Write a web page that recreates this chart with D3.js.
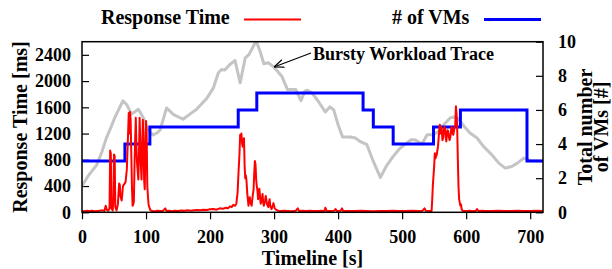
<!DOCTYPE html>
<html lang="en">
<meta charset="utf-8">
<style>
body {
  margin: 0;
  background: #fff;
  font-family: 'Liberation Serif', 'Times New Roman', serif;
}
.axis .domain {
  display: none;
}
.axis text {
  font-family: 'Liberation Serif', serif;
  font-weight: bold;
  font-size: 18px;
  fill: #000;
}
.axis line {
  stroke: #000;
  stroke-width: 1.2px;
}
.lbl {
  font-family: 'Liberation Serif', serif;
  font-weight: bold;
  font-size: 20px;
}
</style>
<body>
<div id="chart"></div>
<script src="https://cdn.jsdelivr.net/npm/d3@7"></script>
<script>

// response time [ms] as [time s, ms]
var respTime = [
  [0,20],[4,15],[8,25],[12,18],[16,22],[20,15],[24,20],[28,25],[32,30],[35,20],[37,100],[39,35],[41,25],[43,60],
  [44,940],[45,900],[46,60],[48,30],[49,200],[50,880],[51,860],[52,80],[54,30],[56,120],[58,440],[59,420],[60,250],
  [62,180],[64,400],[66,430],[68,460],[70,650],[72,1200],[73,1514],[74,1200],[75,1530],[76,1400],[77,880],[78,400],
  [79,100],[80,120],[81,160],[82,700],[83,1100],[84,1440],[85,1000],[86,750],[88,500],[89,900],[90,1440],[91,1100],
  [92,700],[93,500],[94,900],[95,1410],[96,1200],[97,500],[98,350],[99,900],[100,1390],[101,1200],[102,400],[103,240],
  [104,120],[105,80],[107,30],[110,20],[114,15],[118,25],[122,20],[126,18],[130,60],[132,20],[136,25],[140,15],
  [145,22],[150,20],[155,28],[160,22],[165,30],[170,25],[175,30],[180,35],[185,30],[190,40],[195,35],[200,45],
  [205,50],[210,40],[215,60],[220,55],[225,70],[228,60],[231,90],[234,80],[236,112],[239,100],[241,127],[243,300],
  [244,520],[246,900],[247,1183],[248,1100],[249,1200],[250,1050],[251,1000],[252,1100],[253,1130],[254,700],
  [255,520],[256,560],[257,470],[258,300],[260,100],[261,200],[262,230],[263,150],[265,100],[266,200],[267,280],
  [268,350],[269,600],[270,780],[271,730],[272,500],[273,400],[274,330],[275,200],[276,300],[277,360],[278,250],
  [279,130],[281,200],[282,280],[283,150],[284,100],[286,180],[287,250],[289,120],[291,80],[292,150],[293,200],
  [294,100],[296,50],[298,100],[299,140],[301,60],[303,40],[306,25],[310,20],[316,25],[322,20],[328,15],[334,25],
  [337,60],[339,20],[345,25],[350,20],[356,22],[362,18],[368,20],[374,25],[379,20],[380,70],[382,20],[388,20],
  [394,25],[396,50],[398,20],[404,25],[406,60],[408,20],[415,20],[425,18],[435,22],[445,20],[455,15],[465,20],
  [475,18],[485,22],[495,20],[505,18],[515,22],[525,20],[532,25],[535,60],[537,25],[542,20],[546,20],[547,200],
  [548,417],[550,700],[551,900],[552,820],[554,877],[556,1000],[557,1132],[558,1250],[559,1335],[560,1200],
  [561,1300],[562,1234],[563,1100],[564,1132],[565,1250],[566,1300],[567,1285],[568,1150],[569,1081],[570,1200],
  [571,1250],[572,1234],[573,1150],[574,1100],[575,1132],[576,1200],[577,1300],[578,1285],[579,1200],[580,1183],
  [581,1250],[582,1300],[583,1335],[584,1616],[585,1500],[586,1285],[587,800],[588,400],[589,200],[590,150],
  [591,100],[592,120],[593,40],[595,20],[600,20],[605,25],[610,18],[615,20],[617,50],[619,20],[625,22],[630,18],
  [640,20],[650,25],[660,18],[670,20],[680,22],[690,18],[700,20],[710,22],[720,20]
];

// number of VMs, each entry starts a step
var vmTimes = [0, 67, 106, 244, 273, 439, 455, 486, 549, 591, 695, 720];
var vmCount = [3, 4, 5, 6, 7, 6, 5, 4, 5, 6, 3, 3];

// bursty workload trace (gray), in left axis units
var workload = [
  [0,400],[10,560],[23,723],[31,920],[38,1130],[45,1290],[51,1438],[58,1580],[64,1700],[70,1640],[77,1500],
  [80,1514],[88,1570],[96,1438],[101,1305],[106,1220],[111,1178],[117,1208],[122,1254],[127,1420],[132,1590],
  [143,1490],[158,1418],[169,1500],[179,1570],[195,1739],[205,1892],[213,2126],[218,2177],[223,2167],[231,2253],
  [239,2314],[247,1973],[255,2355],[261,2406],[267,2519],[272,2610],[278,2458],[284,2264],[291,2279],[298,2228],
  [305,2152],[312,2075],[321,1871],[334,1871],[342,1702],[348,1846],[352,1861],[359,1820],[369,1693],[380,1530],
  [387,1606],[393,1565],[400,1335],[407,1147],[419,1147],[427,1132],[434,1081],[445,1030],[455,775],[466,531],
  [475,699],[486,852],[497,979],[507,1055],[514,1106],[520,1106],[531,1040],[539,1183],[549,1183],[557,1234],
  [565,1335],[575,1438],[583,1463],[591,1387],[598,1295],[606,1208],[617,1132],[627,1005],[640,876],[651,749],
  [661,673],[671,699],[680,749],[690,826],[700,790],[720,780]
];

var xTicks = [0, 100, 200, 300, 400, 500, 600, 700];
var rtTicks = [0, 400, 800, 1200, 1600, 2000, 2400];
var vmTicks = [0, 2, 4, 6, 8, 10];

var width = 612,
    height = 269;
var margin = {top: 41.7, right: 69, bottom: 56.7, left: 82};
var w = width - margin.left - margin.right,
    h = height - margin.top - margin.bottom;

var svg = d3.select("#chart").append("svg")
    .attr("width", width)
    .attr("height", height);

var x = d3.scaleLinear().domain([0, 720]).range([0, w]);
var yRt = d3.scaleLinear().domain([0, 2600]).range([h, 0]);
var yVm = d3.scaleLinear().domain([0, 10]).range([h, 0]);

var g = svg.append("g")
    .attr("transform", "translate(" + margin.left + "," + margin.top + ")");

// axes
g.append("g")
    .attr("class", "axis")
    .attr("transform", "translate(0," + h + ")")
    .call(d3.axisBottom(x).tickValues(xTicks).tickFormat(d3.format("d")).tickSize(7).tickPadding(11));

g.append("g")
    .attr("class", "axis")
    .call(d3.axisLeft(yRt).tickValues(rtTicks).tickFormat(d3.format("d")).tickSize(-7).tickPadding(11));

g.append("g")
    .attr("class", "axis")
    .attr("transform", "translate(" + w + ",0)")
    .call(d3.axisRight(yVm).tickValues(vmTicks).tickFormat(d3.format("d")).tickSize(-7).tickPadding(15));

g.append("clipPath").attr("id", "clip")
  .append("rect").attr("width", w).attr("height", h);

var plot = g.append("g").attr("clip-path", "url(#clip)");

// gray workload trace
plot.append("path")
    .datum(workload)
    .attr("fill", "none")
    .attr("stroke", "#c4c4c4")
    .attr("stroke-width", 3)
    .attr("stroke-linejoin", "round")
    .attr("d", d3.line().x(function(d) { return x(d[0]); }).y(function(d) { return yRt(d[1]); }));

// VMs step line
plot.append("path")
    .datum(vmTimes.map(function(t, i) { return [t, vmCount[i]]; }))
    .attr("fill", "none")
    .attr("stroke", "#0000ff")
    .attr("stroke-width", 3)
    .attr("d", d3.line().curve(d3.curveStepAfter)
      .x(function(d) { return x(d[0]); }).y(function(d) { return yVm(d[1]); }));

// response time
plot.append("path")
    .datum(respTime)
    .attr("fill", "none")
    .attr("stroke", "#ff0000")
    .attr("stroke-width", 2)
    .attr("stroke-linejoin", "round")
    .attr("d", d3.line().x(function(d) { return x(d[0]); }).y(function(d) { return yRt(d[1]); }));

// frame
g.append("rect")
    .attr("width", w)
    .attr("height", h)
    .attr("fill", "none")
    .attr("stroke", "#000")
    .attr("stroke-width", 1.5);

// annotation
svg.append("defs").append("marker")
    .attr("id", "arr")
    .attr("viewBox", "0 0 10 10")
    .attr("refX", 10).attr("refY", 5)
    .attr("markerWidth", 10).attr("markerHeight", 10)
    .attr("markerUnits", "userSpaceOnUse")
    .attr("orient", "auto")
  .append("path")
    .attr("d", "M0,1 L10,5 L0,9")
    .attr("fill", "none")
    .attr("stroke", "#000")
    .attr("stroke-width", 1.2);

svg.append("line")
    .attr("x1", 311).attr("y1", 53)
    .attr("x2", 274).attr("y2", 67)
    .attr("stroke", "#000")
    .attr("stroke-width", 1.2)
    .attr("marker-end", "url(#arr)");

svg.append("text")
    .attr("class", "lbl")
    .attr("x", 313).attr("y", 60)
    .style("font-size", "18px")
    .text("Bursty Workload Trace");

// legend
svg.append("text").attr("class", "lbl").attr("x", 101).attr("y", 24).text("Response Time");
svg.append("line").attr("x1", 244).attr("x2", 301).attr("y1", 19.5).attr("y2", 19.5)
    .attr("stroke", "#ff0000").attr("stroke-width", 2);
svg.append("text").attr("class", "lbl").attr("x", 392).attr("y", 24).text("# of VMs");
svg.append("line").attr("x1", 484).attr("x2", 541).attr("y1", 19.5).attr("y2", 19.5)
    .attr("stroke", "#0000ff").attr("stroke-width", 3);

// axis titles
var cy = margin.top + h / 2;
svg.append("text").attr("class", "lbl")
    .attr("text-anchor", "middle")
    .attr("transform", "translate(27," + cy + ") rotate(-90)")
    .text("Response Time [ms]");

svg.append("text").attr("class", "lbl")
    .attr("text-anchor", "middle")
    .attr("transform", "translate(592," + cy + ") rotate(-90)")
    .text("Total number");

svg.append("text").attr("class", "lbl")
    .attr("text-anchor", "middle")
    .attr("transform", "translate(608," + cy + ") rotate(-90)")
    .text("of VMs [#]");

svg.append("text").attr("class", "lbl")
    .attr("text-anchor", "middle")
    .attr("x", margin.left + w / 2)
    .attr("y", 265)
    .text("Timeline [s]");

</script>
</body>
</html>
